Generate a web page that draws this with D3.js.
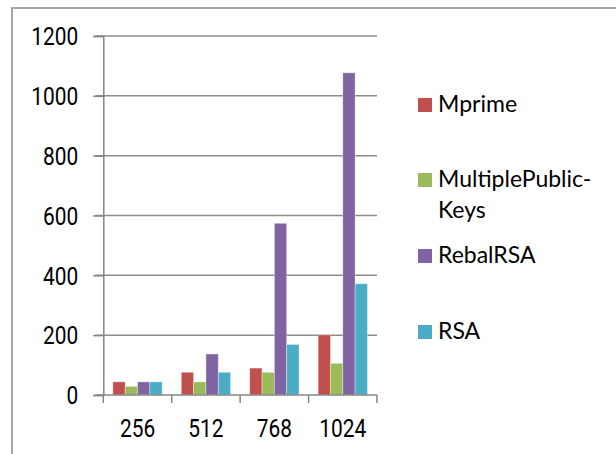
<!DOCTYPE html>
<html>
<head>
<meta charset="utf-8">
<script src="https://cdn.jsdelivr.net/npm/d3@7"></script>
<style>
  html, body { margin: 0; padding: 0; background: #fff; }
  svg { display: block; }
</style>
</head>
<body>
<svg id="chart" width="616" height="454"></svg>
<script>
// Key sizes along the x axis
const categories = ["256", "512", "768", "1024"];
// Series names as shown in the legend
const seriesNames = ["Mprime", "MultiplePublic-Keys", "RebalRSA", "RSA"];
const legendLines = [["Mprime"], ["MultiplePublic-", "Keys"], ["RebalRSA"], ["RSA"]];
const seriesColors = ["#C0504D", "#9BBB59", "#8064A2", "#4BACC6"];
// Values per series, one per key size
const mprime = [44, 76, 90, 201];
const multiplePublicKeys = [29, 44, 76, 106];
const rebalRSA = [44, 137, 574, 1077];
const rsa = [44, 76, 169, 372];
const seriesValues = [mprime, multiplePublicKeys, rebalRSA, rsa];
const yTicks = [0, 200, 400, 600, 800, 1000, 1200];

const svg = d3.select("#chart");

// Outer chart frame
svg.append("rect")
  .attr("x", 12).attr("y", 8)
  .attr("width", 640).attr("height", 480)
  .attr("fill", "none").attr("stroke", "#8a8a8a").attr("stroke-width", 1.5);

const plot = { left: 103.3, right: 377, top: 36, bottom: 395 };

const x = d3.scaleBand().domain(categories).range([plot.left, plot.right]).paddingInner(0).paddingOuter(0);
const xs = d3.scaleBand().domain(d3.range(seriesNames.length)).range([0, x.bandwidth()])
  .paddingInner(0).paddingOuter(0.775);
const y = d3.scaleLinear().domain([0, 1200]).range([plot.bottom, plot.top]);

// Horizontal gridlines
svg.append("g").selectAll("line").data(yTicks.filter(d => d > 0)).join("line")
  .attr("x1", plot.left - 8).attr("x2", plot.right)
  .attr("y1", d => y(d)).attr("y2", d => y(d))
  .attr("stroke", "#8c8c8c").attr("stroke-width", 1.5);

// Y axis
const yAxis = svg.append("g").attr("transform", `translate(${plot.left},0)`)
  .call(d3.axisLeft(y).tickValues(yTicks).tickSize(10).tickPadding(15).tickFormat(d3.format("d")));
yAxis.select(".domain").attr("stroke", "#868686").attr("stroke-width", 1.5);
yAxis.selectAll(".tick line").attr("stroke", "#868686").attr("stroke-width", 1.5);
yAxis.selectAll(".tick text")
  .attr("font-family", "Roboto, sans-serif").attr("font-size", 25.5).attr("fill", "#000")
  .attr("dy", null).attr("dominant-baseline", "central")
  .attr("transform", function () {
    const tx = +d3.select(this).attr("x");
    return `translate(${tx * (1 - 0.82)},0) scale(0.82,1)`;
  });

// Bars
const groups = svg.append("g").selectAll("g").data(categories).join("g")
  .attr("transform", d => `translate(${x(d)},0)`);
groups.selectAll("rect")
  .data((c, ci) => seriesValues.map((vals, si) => ({ si, v: vals[ci] })))
  .join("rect")
  .attr("x", d => xs(d.si))
  .attr("width", xs.bandwidth())
  .attr("y", d => y(d.v))
  .attr("height", d => y(0) - y(d.v))
  .attr("fill", d => seriesColors[d.si])
  .attr("stroke", "rgba(255,255,255,0.45)").attr("stroke-width", 0.8);

// X axis
const xAxis = svg.append("g").attr("transform", `translate(0,${plot.bottom})`)
  .call(d3.axisBottom(x).tickSize(0).tickPadding(0));
xAxis.select(".domain").remove();
svg.append("line")
  .attr("x1", plot.left - 8).attr("x2", plot.right)
  .attr("y1", plot.bottom).attr("y2", plot.bottom)
  .attr("stroke", "#868686").attr("stroke-width", 1.5);
// Category separators
const sepPositions = categories.map(c => x(c)).concat([x.range()[1]]);
svg.append("g").selectAll("line").data(sepPositions).join("line")
  .attr("x1", d => d).attr("x2", d => d)
  .attr("y1", plot.bottom).attr("y2", plot.bottom + 8)
  .attr("stroke", "#868686").attr("stroke-width", 1.5);
xAxis.selectAll(".tick text")
  .attr("font-family", "Roboto, sans-serif").attr("font-size", 25.5).attr("fill", "#000")
  .attr("y", 0).attr("dy", null)
  .attr("transform", "translate(0,41.5) scale(0.82,1)");

// Legend
const legendBaselines = [[112], [187, 218], [263], [339]];
const legend = svg.append("g");
seriesNames.forEach((name, i) => {
  const base = legendBaselines[i][0];
  legend.append("rect")
    .attr("x", 418).attr("y", base - 14)
    .attr("width", 14).attr("height", 14)
    .attr("fill", seriesColors[i]);
  legendLines[i].forEach((line, j) => {
    legend.append("text")
      .attr("x", 438).attr("y", legendBaselines[i][j])
      .attr("font-family", "Lato, sans-serif").attr("font-size", 23).attr("fill", "#000")
      .text(line);
  });
});
</script>
</body>
</html>
